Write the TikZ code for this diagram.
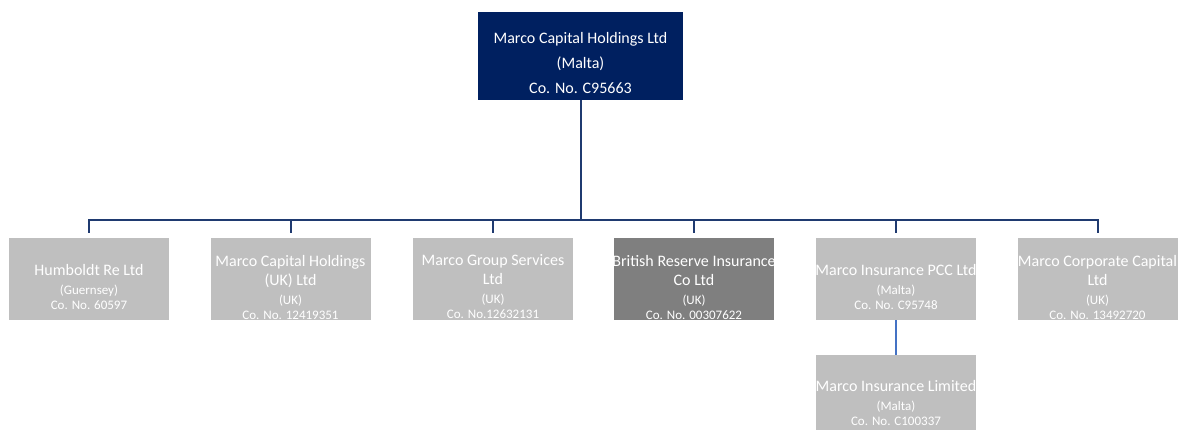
\documentclass[tikz,border=0pt]{standalone}
\usepackage{fontspec}
\setmainfont{Carlito}

\definecolor{navy}{HTML}{002060}
\definecolor{lightgrey}{HTML}{BFBFBF}
\definecolor{darkgrey}{HTML}{7F7F7F}
\definecolor{linkblue}{HTML}{1F3A70}
\definecolor{subblue}{HTML}{4472C4}

\newcommand{\smallline}{\fontsize{6.5}{7.5}\selectfont}

\tikzset{
  topbox/.style={fill=navy, minimum width=102.5pt, minimum height=44pt, inner sep=0pt},
  cobox/.style={fill=lightgrey, minimum width=80pt, minimum height=41pt, inner sep=0pt},
  cotext/.style={text=white, align=center, inner sep=0pt, font=\fontsize{8}{9.5}\selectfont},
  link/.style={draw=linkblue, line width=1pt},
  sublink/.style={draw=subblue, line width=0.6pt},
}

\begin{document}
\begin{tikzpicture}[x=0.5pt, y=-0.5pt]
        \useasboundingbox (0,0) rectangle (1179,430);

        % Capogruppo
        \node[topbox] (top) at (580.5,56) {};
        \node[cotext, font=\fontsize{8}{12.5}\selectfont] (toptext) at ([yshift=-3.5pt]top.center)
            {Marco Capital Holdings Ltd\\(Malta)\\Co. No. C95663};

        % Controllate
        \node[cobox] (hum) at (89,279) {};
        \node[cobox] (mch) at (290.5,279) {};
        \node[cobox] (mgs) at (493,279) {};
        \node[cobox, fill=darkgrey] (bri) at (694,279) {};
        \node[cobox] (mip) at (896,279) {};
        \node[cobox] (mcc) at (1097.5,279) {};
        \node[cobox, minimum height=37.5pt] (mil) at (896,392.5) {};

        \node[cotext] (humtext) at ([yshift=-4pt]hum.center)
            {Humboldt Re Ltd\\\smallline (Guernsey)\\[-2pt]\smallline Co. No. 60597};
        \node[cotext] (mchtext) at ([yshift=-4pt]mch.center)
            {Marco Capital Holdings\\(UK) Ltd\\\smallline (UK)\\[-2pt]\smallline Co. No. 12419351};
        \node[cotext] (mgstext) at ([yshift=-4pt]mgs.center)
            {Marco Group Services\\Ltd\\\smallline (UK)\\[-2pt]\smallline Co. No.12632131};
        \node[cotext] (britext) at ([yshift=-4pt]bri.center)
            {British Reserve Insurance\\Co Ltd\\\smallline (UK)\\[-2pt]\smallline Co. No. 00307622};
        \node[cotext] (miptext) at ([yshift=-4pt]mip.center)
            {Marco Insurance PCC Ltd\\\smallline (Malta)\\[-2pt]\smallline Co. No. C95748};
        \node[cotext] (mcctext) at ([yshift=-4pt]mcc.center)
            {Marco Corporate Capital\\Ltd\\\smallline (UK)\\[-2pt]\smallline Co. No. 13492720};
        \node[cotext] (miltext) at ([yshift=-5pt]mil.center)
            {Marco Insurance Limited\\\smallline (Malta)\\[-2pt]\smallline Co. No. C100337};

        % Collegamenti
        \coordinate (bus) at (580.5,220);
        \draw[link] (top.south) -- (bus);
        \foreach \c in {hum,mch,mgs,bri,mip,mcc}
            \draw[link] (bus) -| ([yshift=2.5pt]\c.north);
        \draw[sublink] (mip.south) -- (mil.north);

    \end{tikzpicture}
\end{document}
